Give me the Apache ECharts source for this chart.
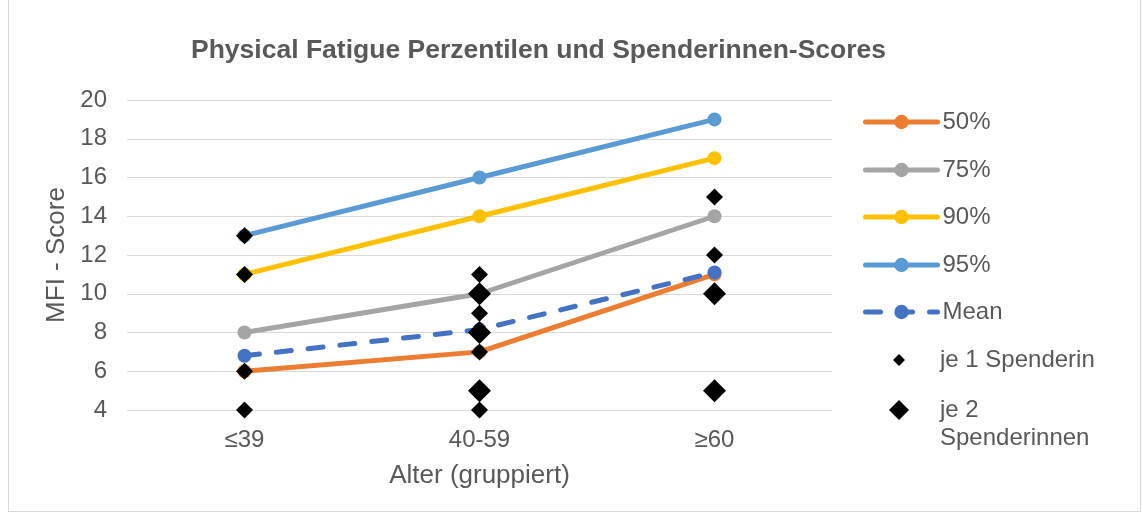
<!DOCTYPE html>
<html><head><meta charset="utf-8">
<script src="https://cdn.jsdelivr.net/npm/echarts@6/dist/echarts.min.js"></script>
<style>
html,body{margin:0;padding:0;background:#fff;}
#frame{position:absolute;left:8px;top:-2px;width:1133px;height:514px;border:1px solid #d9d9d9;box-sizing:border-box;}
#c{position:absolute;left:0;top:0;width:1143px;height:517px;}
</style></head>
<body><div id="frame"></div><div id="c"></div>
<script>
var categories = ['≤39', '40-59', '≥60'];
var p50 = [6, 7, 11];
var p75 = [8, 10, 14];
var p90 = [11, 14, 17];
var p95 = [13, 16, 19];
var meanVals = [6.8, 8.15, 11.1];
var single39 = [13, 11, 6, 4];
var single4059 = [11, 9, 7, 4];
var single60 = [15, 12];
var double39 = [];
var double4059 = [10, 8, 5];
var double60 = [10, 5];
var yTicks = [4, 20, 2];

function pts(idx, arr){ return arr.map(function(v){ return [idx, v]; }); }
var singles = pts(0, single39).concat(pts(1, single4059), pts(2, single60));
var doubles = pts(0, double39).concat(pts(1, double4059), pts(2, double60));

var txt = '#595959';
var font = 'Liberation Sans, Arial, sans-serif';
function lineSeries(name, data, color, dashed){
  return {name:name, type:'line', data:data, symbol:'circle', symbolSize:14,
    itemStyle:{color:color, opacity:1},
    lineStyle:{color:color, width:5, type: dashed ? [15,17] : 'solid', cap:'round'},
    emphasis:{disabled:true}, z:2};
}
var names = ['50%','75%','90%','95%','Mean','je 1 Spenderin','je 2 Spenderinnen'];
var legendY = [122,170,217,265,312,360,410];
var legends = names.map(function(n, i){
  var isDiamond = i >= 5;
  var sz = i === 5 ? 12 : 20;
  var lg = {data:[n], orient:'vertical', itemGap:0, selectedMode:false,
    textStyle:{color:txt, fontSize:24, fontFamily:font, lineHeight:28},
    formatter: function(nm){ return nm === 'je 2 Spenderinnen' ? 'je 2' : nm; }};
  if (isDiamond) {
    lg.icon = 'diamond';
    lg.itemWidth = sz; lg.itemHeight = sz;
    lg.left = 899 - sz/2 - 5;
    lg.textStyle.padding = [0, 0, 0, 940 - (899 + sz/2 + 5)];
  } else {
    lg.itemWidth = 72; lg.itemHeight = 18;
    lg.left = 858;
    lg.lineStyle = {width:5};
  }
  lg.top = legendY[i] - 14 - 5;
  return lg;
});

var chart = echarts.init(document.getElementById('c'), null, {renderer:'canvas'});
chart.setOption({
  animation:false,
  backgroundColor:'transparent',
  title:{text:'Physical Fatigue Perzentilen und Spenderinnen-Scores', left:186, top:32,
    textStyle:{color:txt, fontSize:26.5, fontWeight:'bold', fontFamily:font}},
  legend: legends,
  graphic:[{type:'text', left:940, top:426,
    style:{text:'Spenderinnen', fill:txt, fontSize:24, fontFamily:font}}],
  grid:{left:127, right:311, top:100, bottom:107},
  xAxis:{type:'category', data:categories, boundaryGap:true,
    axisLine:{show:false}, axisTick:{show:false},
    axisLabel:{color:txt, fontSize:24, fontFamily:font, margin:18},
    name:'Alter (gruppiert)', nameLocation:'middle', nameGap:53,
    nameTextStyle:{color:txt, fontSize:26, fontFamily:font}},
  yAxis:{type:'value', min:yTicks[0], max:yTicks[1], interval:yTicks[2],
    axisLine:{show:false}, axisTick:{show:false},
    axisLabel:{color:txt, fontSize:24, fontFamily:font, margin:20},
    splitLine:{lineStyle:{color:'#d9d9d9', width:1}},
    name:'MFI - Score', nameLocation:'middle', nameGap:56, nameRotate:90,
    nameTextStyle:{color:txt, fontSize:26, fontFamily:font}},
  series:[
    lineSeries('50%', p50, '#ED7D31'),
    lineSeries('75%', p75, '#A5A5A5'),
    lineSeries('90%', p90, '#FFC000'),
    lineSeries('95%', p95, '#5B9BD5'),
    lineSeries('Mean', meanVals, '#4472C4', true),
    {name:'je 1 Spenderin', type:'scatter', data:singles, symbol:'diamond', symbolSize:17,
      itemStyle:{color:'#000', opacity:1}, emphasis:{disabled:true}, z:5},
    {name:'je 2 Spenderinnen', type:'scatter', data:doubles, symbol:'diamond', symbolSize:23,
      itemStyle:{color:'#000', opacity:1}, emphasis:{disabled:true}, z:5}
  ]
});
</script></body></html>
